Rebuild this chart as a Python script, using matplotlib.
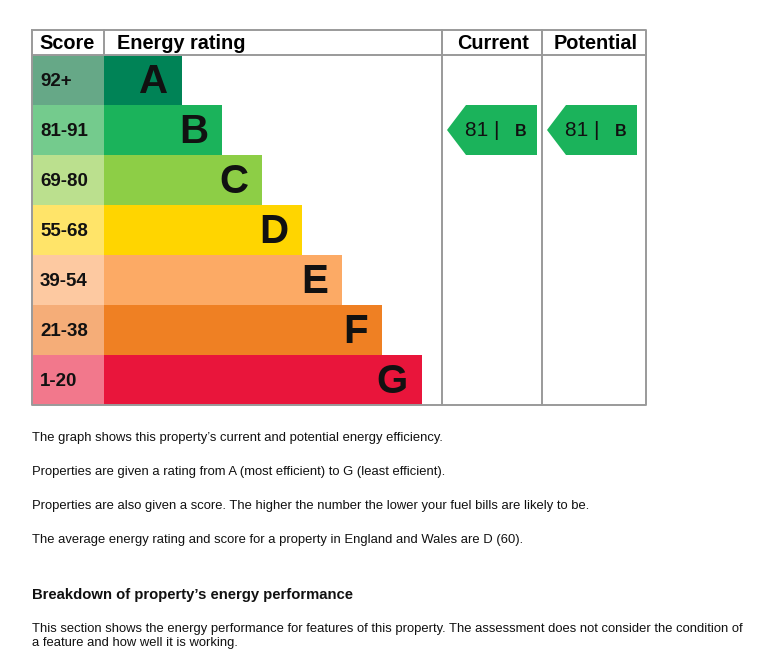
import matplotlib.pyplot as plt
from matplotlib.patches import Rectangle, Polygon

# data
bands = ['A', 'B', 'C', 'D', 'E', 'F', 'G']
score_ranges = ['92+', '81-91', '69-80', '55-68', '39-54', '21-38', '1-20']
band_colors = ['#008356', '#1bb35b', '#8dce46', '#ffd500', '#fcaa65', '#ef8023', '#e9153b']
score_colors = ['#66a887', '#74cb8d', '#bbe08e', '#ffe469', '#fdc9a1', '#f5ad78', '#f2788c']
current_score, current_band = 81, 'B'
potential_score, potential_band = 81, 'B'

notes = [
    "The graph shows this property\u2019s current and potential energy efficiency.",
    "Properties are given a rating from A (most efficient) to G (least efficient).",
    "Properties are also given a score. The higher the number the lower your fuel bills are likely to be.",
    "The average energy rating and score for a property in England and Wales are D (60).",
]
heading = "Breakdown of property\u2019s energy performance"
section_lines = [
    "This section shows the energy performance for features of this property. "
    "The assessment does not consider the condition of",
    "a feature and how well it is working.",
]

plt.rcParams['font.family'] = ['Liberation Sans', 'DejaVu Sans']

fig = plt.figure(figsize=(7.79, 6.57), dpi=100)
ax = fig.add_axes([0, 0, 1, 1])
ax.set_xlim(0, 779)
ax.set_ylim(657, 0)
ax.axis('off')

# table geometry
left, top, right = 32, 30, 646
head_h, row_h = 25, 50
col_score, col_cur, col_pot = 104, 442, 542
bottom = top + head_h + row_h * len(bands)
grey = '#9a9a9a'

# bands
for i, (b, sr) in enumerate(zip(bands, score_ranges)):
    y0 = top + head_h + i * row_h
    ax.add_patch(Rectangle((left, y0), col_score - left, row_h, color=score_colors[i], lw=0))
    x_end = col_score + 78 + 40 * i
    ax.add_patch(Rectangle((col_score, y0), x_end - col_score, row_h, color=band_colors[i], lw=0))
    ax.text(left + 8, y0 + row_h / 2 + 1, sr, fontsize=13.5, fontweight='bold', va='center', ha='left', color='#111111')
    ax.text(x_end - 14, y0 + row_h / 2 + 2, b, fontsize=29, fontweight='bold', va='center', ha='right', color='#111111')

# grid lines
lw = 1.4
ax.plot([left, right, right, left, left], [top, top, bottom, bottom, top], color=grey, lw=lw)
ax.plot([left, right], [top + head_h, top + head_h], color=grey, lw=lw)
for x in (col_score, col_cur, col_pot):
    ax.plot([x, x], [top, top + head_h], color=grey, lw=lw)
for x in (col_cur, col_pot):
    ax.plot([x, x], [top, bottom], color=grey, lw=lw)

# headers
hy = top + head_h / 2 + 1
ax.text(left + 7, hy, 'Score', fontsize=14.3, fontweight='bold', va='center')
ax.text(col_score + 13, hy, 'Energy rating', fontsize=14.3, fontweight='bold', va='center')
ax.text((col_cur + col_pot) / 2 + 1, hy, 'Current', fontsize=14.3, fontweight='bold', va='center', ha='center')
ax.text((col_pot + right) / 2 + 2, hy, 'Potential', fontsize=14.3, fontweight='bold', va='center', ha='center')


def rating_arrow(x_col, score, band):
    i = bands.index(band)
    yc = top + head_h + i * row_h + row_h / 2
    tip, body, end, h = x_col + 5, x_col + 24, x_col + 95, 25
    ax.add_patch(Polygon([(tip, yc), (body, yc - h), (end, yc - h), (end, yc + h), (body, yc + h)],
                         closed=True, color=band_colors[i], lw=0))
    ax.text(body - 1, yc + 1, f'{score} |', fontsize=15, va='center', ha='left', color='#111111')
    ax.text(end - 10, yc + 1, band, fontsize=11.5, fontweight='bold', va='center', ha='right', color='#111111')


rating_arrow(col_cur, current_score, current_band)
rating_arrow(col_pot, potential_score, potential_band)

# explanatory text
for k, line in enumerate(notes):
    ax.text(left, 438.5 + k * 34, line, fontsize=9.4, va='center', ha='left', color='#111111')
ax.text(left, 595, heading, fontsize=10.7, fontweight='bold', va='center', ha='left', color='#111111')
for k, line in enumerate(section_lines):
    ax.text(left, 629 + k * 14, line, fontsize=9.4, va='center', ha='left', color='#111111')

fig.savefig('out.png', dpi=100)
